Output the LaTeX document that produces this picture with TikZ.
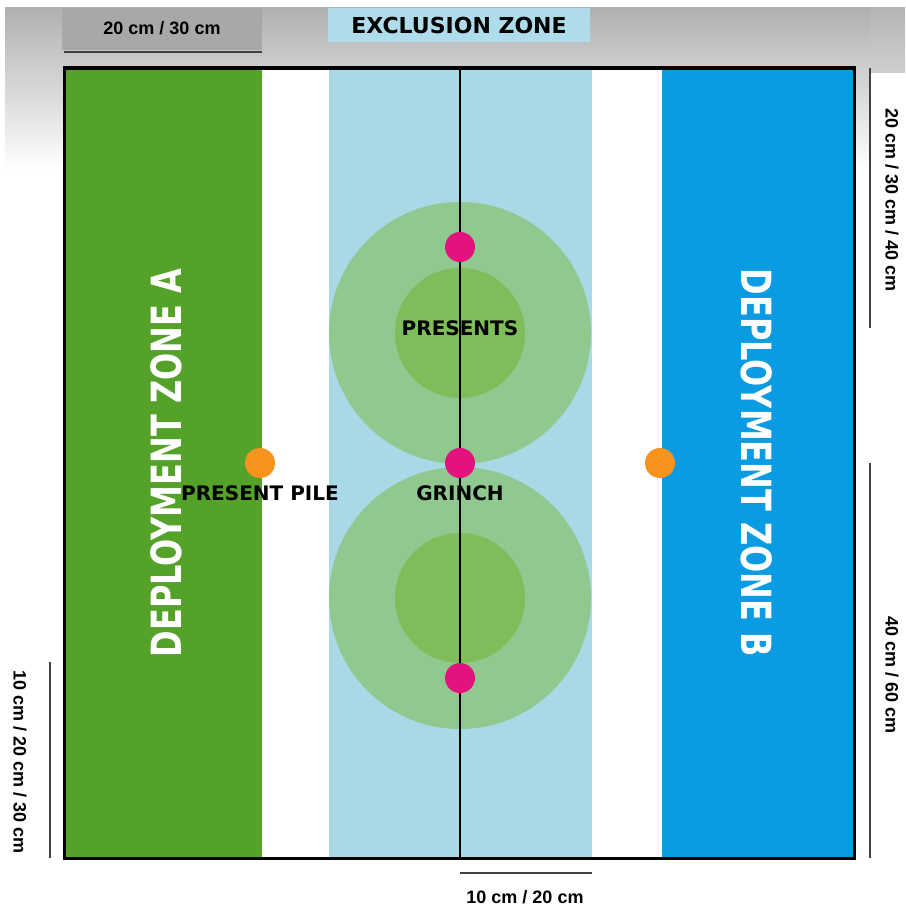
\documentclass[tikz,border=0pt]{standalone}
\usepackage{fontspec}
\usepackage{xcolor}
\newfontfamily\zonefont{DejaVu Sans}
\newfontfamily\dimfont{Liberation Sans}
\definecolor{zoneA}{HTML}{55A22B}
\definecolor{zoneB}{HTML}{0A9BE3}
\definecolor{midblue}{HTML}{A9D8E6}
\definecolor{exblue}{HTML}{AEDCEA}
\definecolor{ringout}{HTML}{90C98F}
\definecolor{ringin}{HTML}{7DBD5A}
\definecolor{grinch}{HTML}{E2127F}
\definecolor{pile}{HTML}{F7941D}

\begin{document}
\begin{tikzpicture}[x=1pt,y=-1pt]
\tikzstyle{dot} =[circle,inner sep=0pt,minimum size=30pt]
\tikzstyle{tag} =[font=\zonefont\bfseries\fontsize{20}{24}\selectfont]
\tikzstyle{zone} =[font=\zonefont\bfseries\fontsize{32}{36}\selectfont,text=white]
\tikzstyle{dim} =[font=\dimfont\bfseries\fontsize{18}{22}\selectfont]
\tikzstyle{dimline} =[line width=2pt,black!75]
\useasboundingbox (0,0) rectangle (905,907);

% grey strip at the top
\shade[top color=gray!62,bottom color=white] (5,8) rectangle (870,170);
\shade[top color=gray!58,bottom color=gray!38] (870,8) rectangle (905,72);
\fill[gray!68] (62,8) rectangle (262,50);

% the board
\fill[zoneA] (64,68) rectangle (262,858);
\fill[white] (262,68) rectangle (329,858);
\fill[midblue] (329,68) rectangle (592,858);
\fill[white] (592,68) rectangle (662,858);
\fill[zoneB] (662,68) rectangle (854,858);
\fill[ringout] (460,333) circle (131);
\fill[ringin] (460,333) circle (65);
\fill[ringout] (460,598) circle (131);
\fill[ringin] (460,598) circle (65);
\draw[line width=1.2pt] (460,68) -- (460,858);
\draw[line width=3pt] (64,68) rectangle (854,858);

% zones and labels
\node[zone,rotate=90] (za) at (166,463) {\scalebox{1}[1.3]{DEPLOYMENT ZONE A}};
\node[zone,rotate=-90] (zb) at (757,463) {\scalebox{1}[1.3]{DEPLOYMENT ZONE B}};
\node[tag] (presents) at (460,328) {PRESENTS};
\node[tag] (grinchlbl) at (460,493) {GRINCH};
\node[tag] (pilelbl) at (260,493) {PRESENT PILE};
\node[tag,font=\zonefont\bfseries\fontsize{22}{26}\selectfont,fill=exblue,minimum width=262,minimum height=34] (excl) at (459,25) {EXCLUSION ZONE};

% grinch spots and present piles
\node[dot,fill=grinch] (g1) at (460,247){};
\node[dot,fill=grinch] (g2) at (460,463){};
\node[dot,fill=grinch] (g3) at (460,678){};
\node[dot,fill=pile] (p1) at (260,463){};
\node[dot,fill=pile] (p2) at (660,463){};

% measurements
\node[dim] (dtop) at (162,28) {20 cm / 30 cm};
\draw[dimline] (64,52) -- (262,52);
\node[dim,rotate=-90] (dright) at (892,200) {20 cm / 30 cm / 40 cm};
\draw[dimline] (870,68) -- (870,328);
\node[dim,rotate=-90] (dright2) at (892,675) {40 cm / 60 cm};
\draw[dimline] (870,463) -- (870,858);
\node[dim,rotate=-90] (dleft) at (20,762) {10 cm / 20 cm / 30 cm};
\draw[dimline] (50,662) -- (50,858);
\node[dim] (dbot) at (525,897) {10 cm / 20 cm};
\draw[dimline] (460,873) -- (592,873);
\end{tikzpicture}
\end{document}
